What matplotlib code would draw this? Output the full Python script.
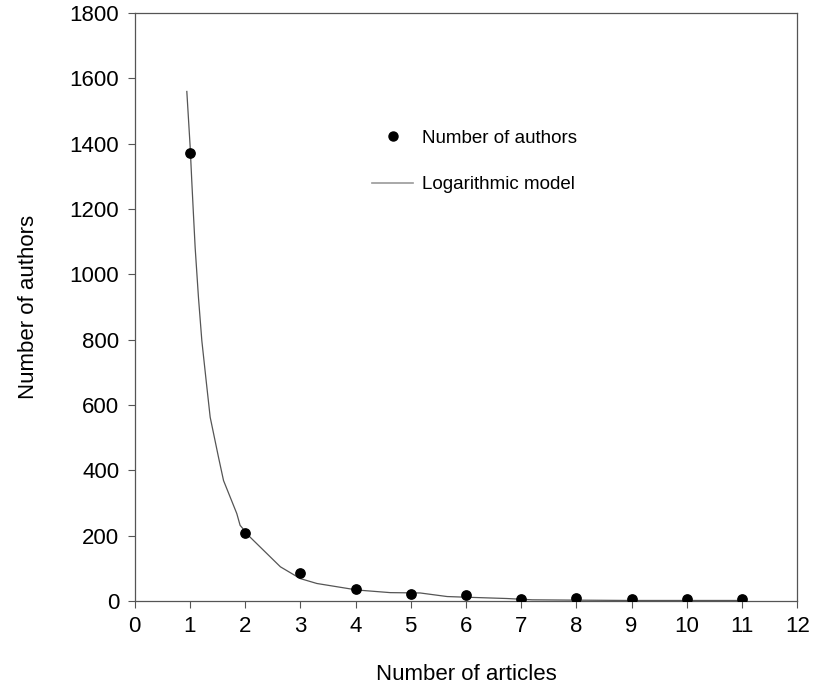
import matplotlib.pyplot as plt
from matplotlib.lines import Line2D

plt.rcParams["font.family"] = ["Liberation Sans", "DejaVu Sans"]

# observed counts
articles = [1, 2, 3, 4, 5, 6, 7, 8, 9, 10, 11]
authors = [1372, 207, 85, 37, 23, 19, 5, 10, 5, 5, 5]

# fitted curve
model_x = [0.945, 1.005, 1.035, 1.065, 1.096, 1.156, 1.217, 1.295, 1.368, 1.518,
           1.61, 1.85, 1.91, 2.09, 2.64, 3.0, 3.3, 4.03, 4.63, 5.17, 5.66, 6.0,
           6.74, 7.2, 8.0, 9.0, 10.0, 11.0]
model_y = [1560, 1392, 1285, 1184, 1082, 929, 797, 675, 563, 441,
           369, 268, 232, 196, 105, 69, 54, 34, 26, 25, 14, 12,
           8, 4, 3, 2, 2, 2]

fig = plt.figure(figsize=(8.16, 6.87), dpi=100)
ax = fig.add_axes([0.165, 0.125, 0.812, 0.856])

ax.plot(model_x, model_y, color="#555555", lw=0.9)
ax.scatter(articles, authors, s=45, color="black", zorder=3)

ax.set_xlim(0, 12)
ax.set_ylim(0, 1800)
ax.set_xticks(range(0, 13))
ax.set_yticks(range(0, 1801, 200))
ax.tick_params(direction="out", length=5, width=0.8, color="#555555",
               labelsize=16, pad=6)
for s in ax.spines.values():
    s.set_color("#555555")
    s.set_linewidth(0.9)

ax.set_xlabel("Number of articles", fontsize=16, labelpad=19)
ax.set_ylabel("Number of authors", fontsize=16, labelpad=22)

handles = [
    Line2D([], [], marker="o", ls="", color="black", markersize=6.5),
    Line2D([], [], color="#999999", lw=1.2),
]
ax.legend(handles, ["Number of authors", "Logarithmic model"],
          loc="upper left", bbox_to_anchor=(0.333, 0.83), frameon=False,
          fontsize=13.5, labelspacing=1.55, handlelength=2.2, handletextpad=0.45)

fig.savefig("out.png", dpi=100)
